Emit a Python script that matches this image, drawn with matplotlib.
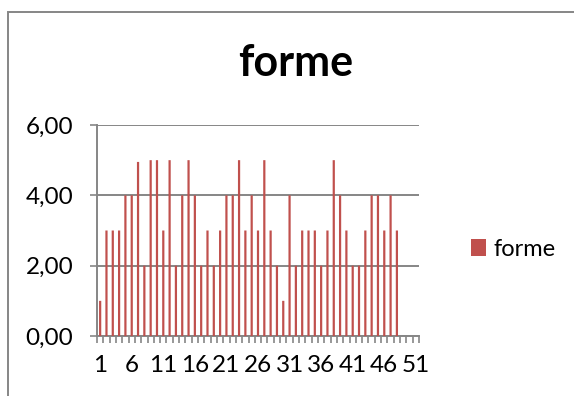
# histogramme "forme"
import numpy as np
import matplotlib.pyplot as plt
from matplotlib.patches import Rectangle

plt.rcParams['font.family'] = ['Lato', 'DejaVu Sans']

# valeurs
categories = list(range(1, 49))
forme = [1, 3, 3, 3, 4, 4, 4.95, 2, 5, 5,
         3, 5, 2, 4, 5, 4, 2, 3, 2, 3,
         4, 4, 5, 3, 4, 3, 5, 3, 2, 1,
         4, 2, 3, 3, 3, 2, 3, 5, 4, 3,
         2, 2, 3, 4, 4, 3, 4, 3]
xtick_labels = [str(v) for v in range(1, 52, 5)]
yticks = [0, 2, 4, 6]

grey = '#868686'
red = '#C0504D'

fig = plt.figure(figsize=(5.74, 3.96), dpi=100)
ax = fig.add_axes([97/574, 1 - 336/396, (419-97)/574, (336-125)/396])

bars = ax.bar(categories, forme, width=0.35, color=red, label='forme',
              zorder=3, linewidth=0)
for b in bars:
    b.set_snap(False)

ax.set_xlim(0.5, 51.5)
ax.set_ylim(0, 6)

# axe x : graduations entre les catégories, étiquettes tous les 5
ax.set_xticks(range(1, 52, 5))
ax.set_xticklabels(xtick_labels)
ax.set_xticks(np.arange(0.5, 52, 1), minor=True)
ax.tick_params(axis='x', which='major', length=0, pad=14, labelsize=17.5)
ax.tick_params(axis='x', which='minor', length=5, width=1.2, color=grey)

ax.set_yticks(yticks)
ax.set_yticklabels([f'{v:.2f}'.replace('.', ',') for v in yticks])
ax.tick_params(axis='y', length=5, width=1.2, color=grey, pad=12, labelsize=17.5)

ax.grid(axis='y', color=grey, linewidth=1.4, zorder=1)
ax.set_axisbelow(True)
for s in ['top', 'right']:
    ax.spines[s].set_visible(False)
for s in ['left', 'bottom']:
    ax.spines[s].set_color(grey)
    ax.spines[s].set_linewidth(1.4)

fig.text(296/574, 1 - 63/396, 'forme', ha='center', va='center',
         fontsize=31, fontweight='bold')

ax.legend(loc='center left', bbox_to_anchor=(471/574, 1 - 249/396),
          bbox_transform=fig.transFigure, frameon=False, fontsize=17,
          handlelength=0.65, handleheight=0.7, handletextpad=0.3,
          borderpad=0, borderaxespad=0)

# cadre du graphique
fig.add_artist(Rectangle((8/574, -0.5), 2, 0.5 + (396-12)/396,
                         transform=fig.transFigure, fill=False,
                         edgecolor=grey, linewidth=1.4))

fig.savefig('out.png', dpi=100)
